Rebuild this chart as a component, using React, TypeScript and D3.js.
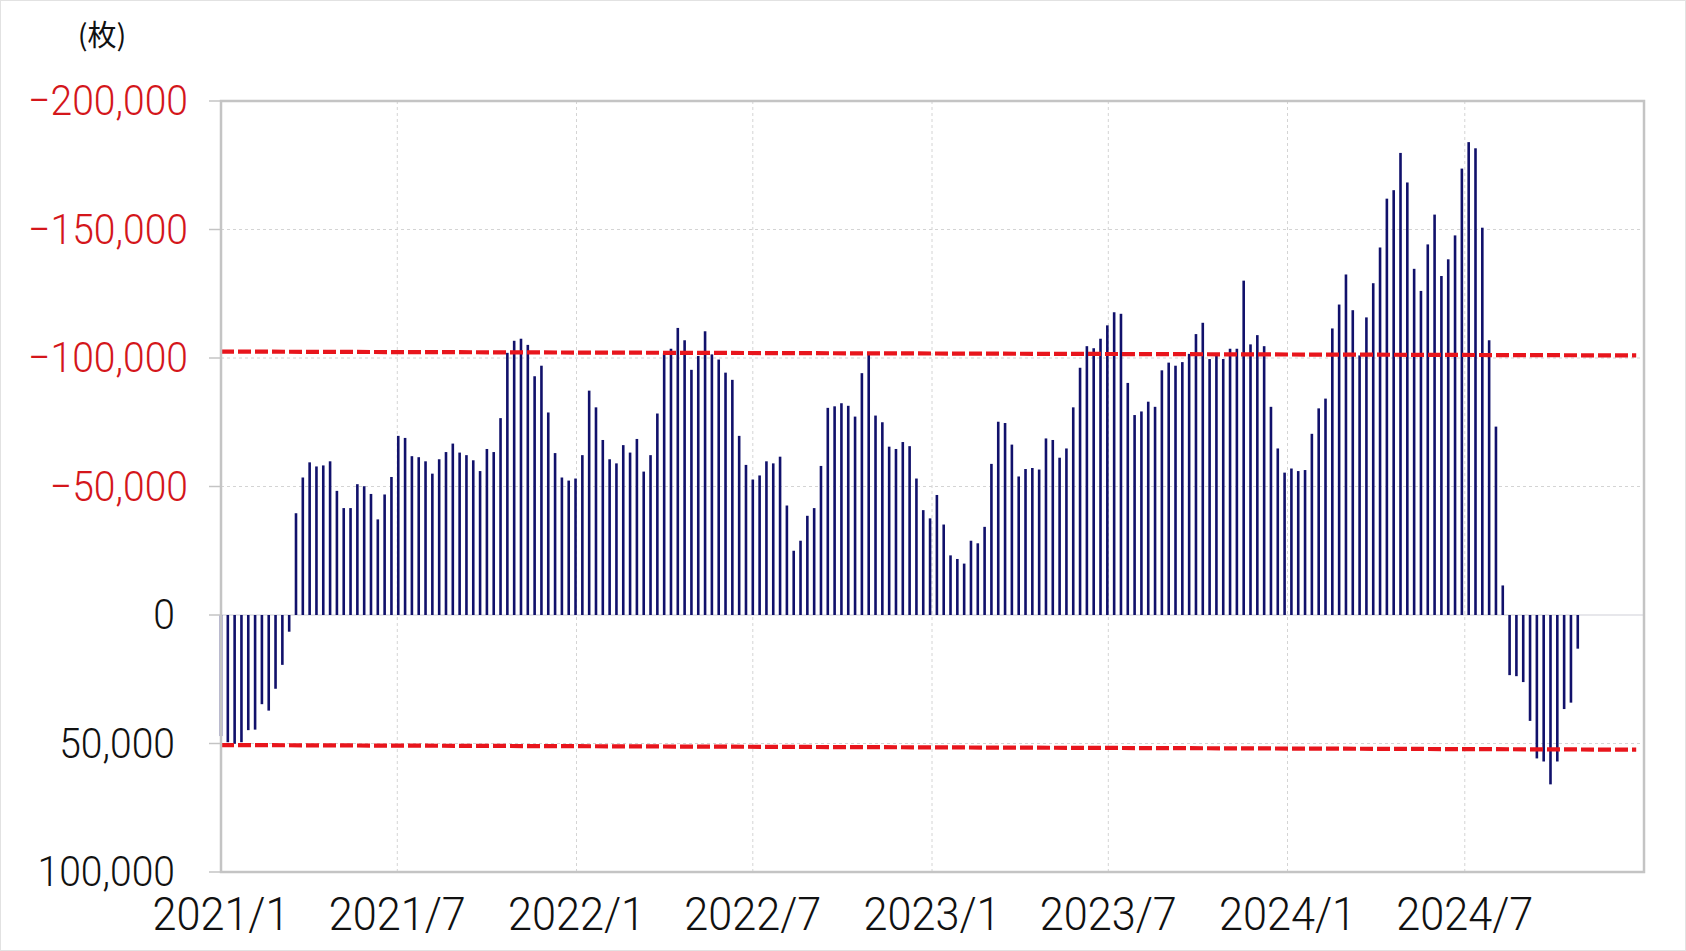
import React from "react";
import * as d3 from "d3";

// Weekly net position values (contracts, 枚). Negative = drawn upward (axis inverted)
const netPositions: number[] = [
  47100, 49500, 50100, 49500, 44800, 44600, 34700, 37200, 28700, 19400,
  6500, -39600, -53500, -59400, -57800, -58200, -59800, -48300, -41600, -41600,
  -50900, -50100, -47100, -37200, -46900, -53700, -69700, -68900, -61800, -61400,
  -59800, -55000, -60600, -63400, -66700, -63200, -62200, -60200, -56000, -64600,
  -63400, -76600, -102000, -106700, -107500, -105100, -92900, -97000, -78800, -63000,
  -53500, -52300, -53100, -62200, -87300, -80800, -68100, -60600, -59000, -66100,
  -63200, -68500, -55800, -62200, -78400, -101800, -103600, -111700, -106900, -95400,
  -100800, -110400, -101400, -99400, -94300, -91500, -69700, -58400, -52700, -54300,
  -59800, -59000, -61600, -42600, -25000, -28900, -38600, -41600, -58000, -80600,
  -81200, -82400, -81400, -77200, -94100, -102000, -77600, -75000, -65500, -64600,
  -67300, -65700, -53100, -40800, -37600, -46700, -35200, -23200, -21800, -20000,
  -28900, -27900, -34300, -58800, -75200, -74700, -66300, -53900, -56800, -57200,
  -56600, -68700, -68100, -61200, -64800, -80800, -96200, -104600, -103800, -107500,
  -112700, -117800, -117200, -90300, -77800, -79200, -83000, -81000, -95200, -98200,
  -97000, -98400, -101600, -109300, -113700, -99600, -101000, -99600, -103600, -103600,
  -130100, -105300, -108900, -104600, -81000, -64800, -55400, -57000, -56000, -56400,
  -70500, -80400, -84200, -111500, -120800, -132500, -118600, -101000, -115800, -129100,
  -143000, -162000, -165300, -179800, -168300, -134700, -126100, -144200, -155800, -131900,
  -138400, -147700, -173700, -184000, -181600, -150700, -106900, -73300, -11500, 23400,
  23800, 26100, 41200, 55800, 57000, 65900, 57000, 36600, 34100, 13100,
];

const startDate = new Date(2021, 0, 1);
const endDate = new Date(2025, 0, 1);
const weekDates: Date[] = netPositions.map((_, i) => d3.timeDay.offset(startDate, 7 * i));

const xTickDates: Date[] = [
  new Date(2021, 0, 1), new Date(2021, 6, 1), new Date(2022, 0, 1), new Date(2022, 6, 1),
  new Date(2023, 0, 1), new Date(2023, 6, 1), new Date(2024, 0, 1), new Date(2024, 6, 1),
];
const xTickLabels: string[] = [
  "2021/1", "2021/7", "2022/1", "2022/7", "2023/1", "2023/7", "2024/1", "2024/7",
];
const yTicks: number[] = [-200000, -150000, -100000, -50000, 0, 50000, 100000];

// Red dashed reference lines (start / end values)
const upperLineDates: Date[] = [new Date(2021, 0, 1), new Date(2024, 11, 24)];
const upperLineValues: number[] = [-102500, -101000];
const lowerLineDates: Date[] = [new Date(2021, 0, 1), new Date(2024, 11, 24)];
const lowerLineValues: number[] = [50600, 52400];

const unitLabel = "(枚)";

const W = 1686;
const H = 951;
const M = { left: 221, top: 101, right: 42, bottom: 79 };

export default function App() {
  const x = d3.scaleTime().domain([startDate, endDate]).range([M.left, W - M.right]);
  const y = d3.scaleLinear().domain([-200000, 100000]).range([M.top, H - M.bottom]);
  const fmt = d3.format(",");
  const line = d3
    .line<[Date, number]>()
    .x((d) => x(d[0]))
    .y((d) => y(d[1]));
  const upper = line(upperLineDates.map((d, i) => [d, upperLineValues[i]]));
  const lower = line(lowerLineDates.map((d, i) => [d, lowerLineValues[i]]));
  const font = "Roboto, 'Liberation Sans', Arial, sans-serif";

  return (
    <svg
      width={W}
      height={H}
      style={{ position: "absolute", left: 0, top: 0, background: "#fff" }}
    >
      <rect x={0.5} y={0.5} width={W - 1} height={H - 1} fill="#fff" stroke="#e2e2e2" />
      {/* horizontal gridlines */}
      {yTicks
        .filter((t) => t !== 0 && t !== -200000 && t !== 100000)
        .map((t) => (
          <line
            key={"gy" + t}
            x1={M.left}
            x2={W - M.right}
            y1={y(t)}
            y2={y(t)}
            stroke="#d4d4d4"
            strokeWidth={1}
            strokeDasharray="3,3"
          />
        ))}
      {/* vertical gridlines */}
      {xTickDates.slice(1).map((d, i) => (
        <line
          key={"gx" + i}
          x1={x(d)}
          x2={x(d)}
          y1={M.top}
          y2={H - M.bottom}
          stroke="#d4d4d4"
          strokeWidth={1}
          strokeDasharray="3,3"
        />
      ))}
      {/* zero line */}
      <line x1={M.left} x2={W - M.right} y1={y(0)} y2={y(0)} stroke="#cfcfd8" strokeWidth={1.2} />
      {/* bars */}
      {netPositions.map((v, i) => (
        <rect
          key={"b" + i}
          x={x(weekDates[i]) - 1.3}
          width={2.6}
          y={Math.min(y(0), y(v))}
          height={Math.abs(y(v) - y(0))}
          fill="#11116b"
        />
      ))}
      {/* red dashed lines */}
      <path d={upper || ""} stroke="#e8151c" strokeWidth={4.2} strokeDasharray="13,4" fill="none" />
      <path d={lower || ""} stroke="#e8151c" strokeWidth={4.2} strokeDasharray="13,4" fill="none" />
      {/* plot frame */}
      <rect
        x={M.left}
        y={M.top}
        width={W - M.left - M.right}
        height={H - M.top - M.bottom}
        fill="none"
        stroke="#c4c4c4"
        strokeWidth={2.5}
      />
      {/* y ticks + labels */}
      {yTicks.map((t) => (
        <g key={"yt" + t}>
          <line x1={M.left - 12} x2={M.left} y1={y(t)} y2={y(t)} stroke="#c4c4c4" strokeWidth={1.5} />
          <text
            transform={`translate(${t < 0 ? 188 : 175},${y(t)}) scale(0.93,1)`}
            textAnchor="end"
            dominantBaseline="central"
            fontFamily={font}
            fontWeight={300}
            fontSize={42}
            fill={t < 0 ? "#d4161b" : "#111"}
          >
            {fmt(t)}
          </text>
        </g>
      ))}
      {/* x labels */}
      {xTickDates.map((d, i) => (
        <text
          key={"xl" + i}
          transform={`translate(${x(d)},${915}) scale(0.94,1)`}
          textAnchor="middle"
          dominantBaseline="central"
          fontFamily={font}
          fontWeight={300}
          fontSize={46}
          fill="#111"
        >
          {xTickLabels[i]}
        </text>
      ))}
      <text
        x={102}
        y={33}
        textAnchor="middle"
        dominantBaseline="central"
        fontFamily="'Noto Sans CJK JP', 'Noto Sans CJK SC', sans-serif"
        fontSize={29}
        fill="#111"
      >
        {unitLabel}
      </text>
    </svg>
  );
}
